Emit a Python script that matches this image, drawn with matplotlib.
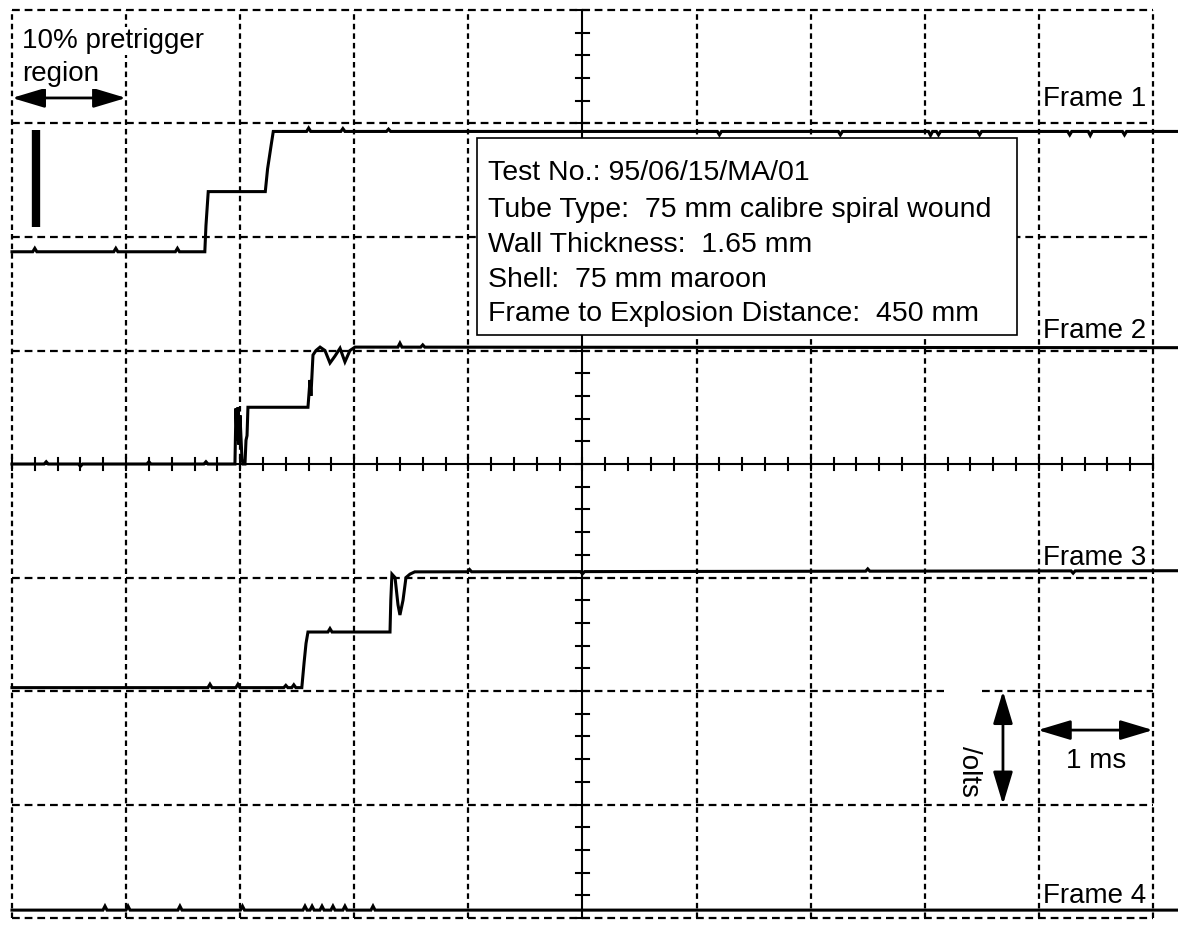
import numpy as np
import matplotlib
matplotlib.use("Agg")
import matplotlib.pyplot as plt
from matplotlib.patches import Rectangle

plt.rcParams["font.family"] = ["Liberation Sans", "DejaVu Sans"]

# screen is 10 x 8 divisions, traces in division units
n_xdiv = 10
n_ydiv = 8

frame1_x = [0.0, 1.69, 1.70, 1.72, 2.22, 2.24, 2.27, 2.29, 10.22]
frame1_y = [1.87, 1.87, 2.10, 2.40, 2.40, 2.60, 2.80, 2.93, 2.93]
frame1_bumps = [0.20, 0.91, 1.45, 2.60, 2.90, 3.30, 6.20, 7.26, 8.05, 8.12, 8.48, 9.27, 9.45, 9.75]
frame1_amp = [0.03, 0.03, 0.03, 0.03, 0.025, 0.02, -0.03, -0.03, -0.035, -0.03, -0.03, -0.03, -0.035, -0.03]

frame2_x = [0.0, 1.954, 1.963, 1.972, 1.981, 1.989, 1.998, 2.016, 2.025, 2.042, 2.051,
            2.060, 2.068, 2.594, 2.612, 2.620, 2.638, 2.664, 2.70, 2.743, 2.787, 2.83,
            2.875, 2.918, 2.962, 3.006, 10.22]
frame2_y = [0.0, 0.0, 0.49, 0.21, 0.50, 0.17, 0.43, 0.04, 0.0, 0.0, 0.21,
            0.25, 0.50, 0.50, 0.74, 0.60, 0.96, 1.00, 1.03, 1.00, 0.89, 0.95,
            1.02, 0.90, 1.00, 1.03, 1.025]
frame2_bumps = [0.3, 0.6, 1.2, 1.7, 3.40, 3.60]
frame2_amp = [0.02, -0.02, 0.02, 0.02, 0.035, 0.02]

frame3_x = [0.0, 2.54, 2.56, 2.577, 2.594, 3.313, 3.32, 3.33, 3.357, 3.383, 3.40,
            3.427, 3.453, 3.488, 3.53, 10.22]
frame3_y = [-1.97, -1.97, -1.75, -1.58, -1.48, -1.48, -1.20, -0.97, -1.00, -1.24, -1.33,
            -1.20, -1.00, -0.97, -0.95, -0.94]
frame3_bumps = [1.735, 1.98, 2.40, 2.47, 2.787, 4.01, 5.0, 7.5, 9.3]
frame3_amp = [0.03, 0.03, 0.02, 0.025, 0.03, 0.02, -0.02, 0.02, -0.02]

frame4_x = [0.0, 10.22]
frame4_y = [-3.93, -3.93]
frame4_bumps = [0.815, 1.017, 1.472, 2.02, 2.568, 2.63, 2.717, 2.813, 2.918, 3.164]
frame4_amp = [0.035] * 10

frame_labels = ["Frame 1", "Frame 2", "Frame 3", "Frame 4"]
label_y = [3.15, 1.11, -0.89, -3.87]

info_lines = ["Test No.: 95/06/15/MA/01",
              "Tube Type:  75 mm calibre spiral wound",
              "Wall Thickness:  1.65 mm",
              "Shell:  75 mm maroon",
              "Frame to Explosion Distance:  450 mm"]
info_y = [2.50, 2.18, 1.87, 1.56, 1.26]

pretrigger_lines = ["10% pretrigger", "region"]
pretrigger_y = [3.665, 3.37]


def with_bumps(xs, ys, bumps, amps, w=0.018):
    base_x = np.asarray(xs, dtype=float)
    base_y = np.asarray(ys, dtype=float)
    out_x = list(base_x)
    out_y = list(base_y)
    for b, a in zip(bumps, amps):
        y0 = np.interp(b, base_x, base_y)
        out_x += [b - w, b, b + w]
        out_y += [y0, y0 + a, y0]
    order = np.argsort(out_x, kind="stable")
    return np.array(out_x)[order], np.array(out_y)[order]


fig = plt.figure(figsize=(11.78, 9.26), dpi=100)
ax = fig.add_axes([0, 0, 1, 1])
ax.set_xlim(-0.105, 10.219)
ax.set_ylim(-4.07, 4.088)
ax.axis("off")

# graticule
grid_kw = dict(color="black", lw=1.6, zorder=1)
for gx in range(n_xdiv + 1):
    if gx == n_xdiv // 2:
        continue
    ax.plot([gx, gx], [-4, 4], ls=(0, (2.5, 1.8)), **grid_kw)
for gy in range(-n_ydiv // 2, n_ydiv // 2 + 1):
    if gy == 0:
        continue
    if gy == -2:
        ax.plot([0, 8.17], [gy, gy], ls=(0, (3.5, 2.2)), **grid_kw)
        ax.plot([8.50, 10], [gy, gy], ls=(0, (3.5, 2.2)), **grid_kw)
    else:
        ax.plot([0, 10], [gy, gy], ls=(0, (3.5, 2.2)), **grid_kw)

# centre axes with minor ticks
ax.plot([0, 10], [0, 0], color="black", lw=1.5, zorder=2)
ax.plot([5, 5], [-4, 4], color="black", lw=1.5, zorder=2)
for t in np.arange(0, 10.001, 0.2):
    ax.plot([t, t], [-0.055, 0.055], color="black", lw=1.5, zorder=2)
for t in np.arange(-4, 4.001, 0.2):
    ax.plot([4.945, 5.055], [t, t], color="black", lw=1.5, zorder=2)

# traces
for xs, ys, bb, aa in [(frame1_x, frame1_y, frame1_bumps, frame1_amp),
                       (frame2_x, frame2_y, frame2_bumps, frame2_amp),
                       (frame3_x, frame3_y, frame3_bumps, frame3_amp),
                       (frame4_x, frame4_y, frame4_bumps, frame4_amp)]:
    tx, ty = with_bumps(xs, ys, bb, aa)
    ax.plot(tx, ty, color="black", lw=2.2, solid_joinstyle="miter", zorder=3)

for lab, ly in zip(frame_labels, label_y):
    ax.text(9.036, ly, lab, fontsize=20, ha="left", va="baseline", zorder=6)

# info box
ax.add_patch(Rectangle((4.075, 1.137), 4.733, 1.735, fc="white", ec="black", lw=1.2, zorder=5))
for line, ly in zip(info_lines, info_y):
    ax.text(4.17, ly, line, fontsize=20.5, ha="left", va="baseline", zorder=6)

# pretrigger annotation
for line, ly in zip(pretrigger_lines, pretrigger_y):
    ax.text(0.09, ly, line, fontsize=20, ha="left", va="baseline", zorder=6,
            bbox=dict(fc="white", ec="none", pad=1.0))
arrow_kw = dict(arrowstyle="<|-|>,head_length=1.0,head_width=0.3", color="black",
                lw=2.0, shrinkA=0, shrinkB=0, mutation_scale=20)
ax.annotate("", xy=(0, 3.225), xytext=(1, 3.225), arrowprops=arrow_kw)
ax.plot([0.21, 0.21], [2.088, 2.943], color="black", lw=6, solid_capstyle="butt", zorder=4)

# scale markers
ax.annotate("", xy=(8.685, -2.0), xytext=(8.685, -3.0), arrowprops=arrow_kw, zorder=4)
ax.annotate("", xy=(8.99, -2.344), xytext=(10.0, -2.344), arrowprops=arrow_kw, zorder=4)
ax.text(8.387, -2.705, "/olts", fontsize=20, rotation=-90, ha="center", va="center")
ax.text(9.50, -2.678, "1 ms", fontsize=20, ha="center", va="baseline")

fig.savefig("out.png", dpi=100)
